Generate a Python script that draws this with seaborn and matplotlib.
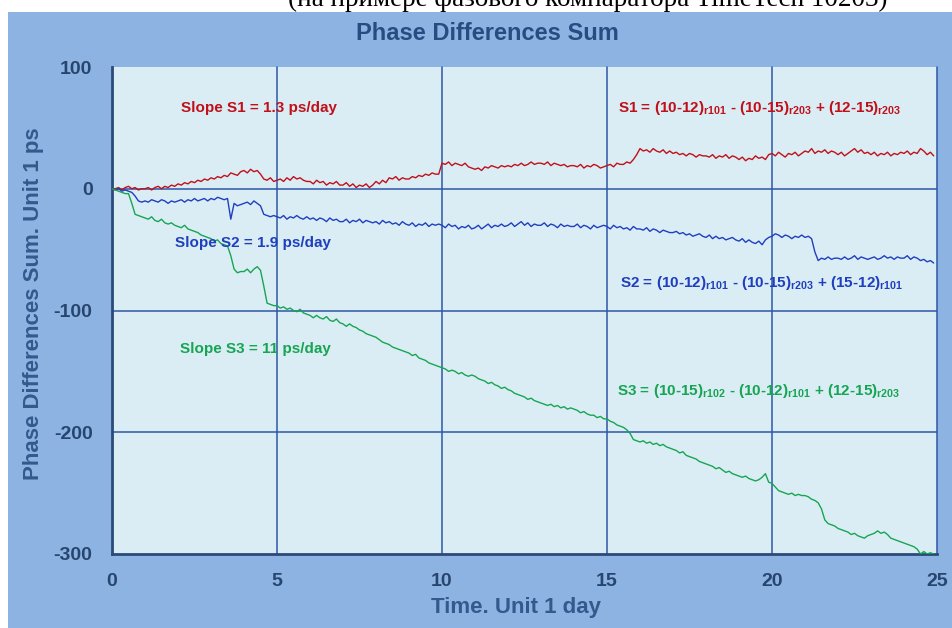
import numpy as np
import pandas as pd
import matplotlib
matplotlib.use("Agg")
import matplotlib.pyplot as plt
from matplotlib.patches import Rectangle
from matplotlib.ticker import MultipleLocator
import seaborn as sns

# ---------------- data (0.1-day sampling) ----------------
days = np.round(np.arange(0, 250) * 0.1, 1)

s1 = [
    0, 0, 1, -1, 1, 2, 0, 1, -1, 0,
    0, 1, -1, 1, 2, 0, 2, 1, 3, 2,
    4, 3, 5, 4, 6, 5, 7, 6, 8, 7,
    9, 8, 10, 9, 11, 10, 13, 12, 11, 14,
    15, 13, 16, 14, 15, 12, 8, 7, 9, 6,
    7, 8, 6, 9, 7, 10, 8, 9, 7, 6,
    6, 4, 7, 5, 6, 3, 5, 4, 6, 3,
    3, 5, 2, 4, 1, 3, 2, 4, 1, 3,
    6, 4, 7, 5, 9, 8, 10, 7, 9, 8,
    8, 10, 9, 11, 10, 12, 11, 13, 12, 12,
    21, 20, 22, 19, 21, 20, 19, 21, 18, 17,
    16, 17, 15, 18, 17, 19, 18, 17, 19, 18,
    19, 18, 20, 19, 21, 19, 20, 22, 20, 21,
    21, 20, 22, 19, 21, 20, 19, 20, 18, 19,
    19, 18, 20, 17, 19, 18, 20, 19, 17, 18,
    19, 20, 18, 21, 20, 20, 22, 21, 24, 28,
    33, 31, 32, 30, 33, 31, 30, 32, 29, 31,
    29, 30, 28, 29, 27, 29, 28, 26, 28, 27,
    27, 26, 28, 25, 27, 26, 28, 25, 27, 26,
    24, 26, 23, 25, 24, 27, 25, 26, 24, 28,
    29, 27, 30, 28, 26, 29, 28, 30, 27, 29,
    31, 30, 33, 29, 31, 30, 32, 29, 31, 30,
    28, 30, 27, 29, 31, 33, 30, 32, 29, 30,
    28, 30, 27, 29, 28, 30, 27, 29, 28, 30,
    29, 31, 28, 30, 29, 33, 31, 28, 30, 27,
]

s2 = [
    0, -1, 0, -2, -1, -2, -3, -6, -10, -11,
    -10, -11, -9, -10, -11, -9, -10, -12, -10, -11,
    -10, -9, -11, -9, -10, -8, -10, -9, -8, -10,
    -8, -9, -7, -8, -9, -8, -25, -12, -14, -13,
    -12, -11, -13, -10, -12, -14, -21, -22, -23, -22,
    -23, -24, -22, -25, -23, -24, -22, -24, -25, -23,
    -25, -24, -26, -24, -25, -27, -24, -26, -25, -27,
    -27, -25, -28, -26, -27, -25, -28, -26, -27, -28,
    -27, -29, -26, -28, -27, -29, -28, -30, -27, -29,
    -30, -28, -31, -29, -30, -28, -31, -29, -30, -29,
    -30, -32, -29, -31, -30, -33, -31, -32, -30, -33,
    -32, -30, -33, -31, -29, -32, -30, -31, -29, -31,
    -30, -28, -31, -29, -27, -30, -28, -31, -29, -30,
    -30, -28, -31, -29, -30, -32, -29, -31, -30, -31,
    -31, -29, -32, -30, -31, -33, -30, -32, -31, -30,
    -31, -33, -30, -32, -31, -33, -32, -34, -31, -33,
    -33, -34, -32, -35, -33, -34, -36, -34, -35, -36,
    -36, -35, -37, -36, -38, -37, -39, -38, -37, -39,
    -40, -38, -41, -39, -41, -40, -42, -41, -40, -42,
    -43, -41, -44, -42, -44, -45, -43, -46, -42, -40,
    -39, -37, -38, -40, -38, -39, -41, -39, -40, -38,
    -40, -39, -41, -52, -59, -57, -58, -56, -58, -57,
    -57, -58, -56, -58, -57, -55, -58, -56, -57, -58,
    -57, -56, -58, -57, -55, -57, -56, -58, -56, -57,
    -57, -55, -58, -56, -57, -59, -58, -60, -59, -61,
]

s3 = [
    0, -1, -2, -3, -4, -4, -12, -21, -22, -23,
    -24, -25, -23, -26, -27, -25, -28, -29, -28, -30,
    -31, -32, -30, -33, -34, -35, -36, -38, -39, -40,
    -41, -43, -42, -45, -46, -47, -55, -66, -69, -68,
    -68, -66, -69, -66, -64, -67, -80, -94, -95, -96,
    -96, -98, -97, -99, -98, -100, -101, -99, -102, -103,
    -104, -106, -104, -106, -107, -105, -108, -109, -107, -110,
    -111, -113, -111, -113, -114, -116, -117, -119, -120, -121,
    -122, -124, -126, -127, -128, -130, -131, -132, -133, -134,
    -135, -137, -136, -139, -140, -141, -143, -144, -145, -146,
    -147, -148, -150, -149, -150, -152, -151, -153, -154, -153,
    -154, -156, -157, -158, -160, -159, -161, -162, -164, -163,
    -165, -166, -168, -169, -170, -171, -173, -172, -174, -175,
    -176, -177, -178, -177, -179, -178, -180, -179, -181, -180,
    -181, -182, -184, -183, -185, -186, -186, -188, -187, -189,
    -189, -191, -192, -194, -195, -196, -198, -201, -206, -207,
    -208, -207, -209, -208, -210, -209, -211, -210, -212, -213,
    -214, -215, -217, -216, -219, -220, -221, -222, -224, -225,
    -226, -227, -228, -230, -229, -231, -233, -232, -234, -235,
    -236, -237, -236, -238, -239, -240, -239, -237, -234, -241,
    -242, -245, -248, -249, -250, -251, -250, -252, -251, -252,
    -252, -253, -255, -256, -258, -263, -272, -275, -276, -277,
    -279, -280, -281, -282, -284, -283, -285, -286, -287, -285,
    -284, -283, -281, -283, -282, -284, -287, -288, -289, -290,
    -291, -292, -293, -294, -296, -300, -298, -300, -299, -300,
]

series_names = ["S1", "S2", "S3"]
series_colors = ["#c0101a", "#1f3fbf", "#16a552"]

slope_labels = ["Slope S1 = 1.3 ps/day", "Slope S2 = 1.9 ps/day", "Slope S3 = 11 ps/day"]
formula_labels = [
    r"S1 = (10-12)$_{\mathbf{r101}}$ - (10-15)$_{\mathbf{r203}}$ + (12-15)$_{\mathbf{r203}}$",
    r"S2 = (10-12)$_{\mathbf{r101}}$ - (10-15)$_{\mathbf{r203}}$ + (15-12)$_{\mathbf{r101}}$",
    r"S3 = (10-15)$_{\mathbf{r102}}$ - (10-12)$_{\mathbf{r101}}$ + (12-15)$_{\mathbf{r203}}$",
]

x_ticks = [0, 5, 10, 15, 20, 25]
y_ticks = [100, 0, -100, -200, -300]

title = "Phase Differences Sum"
x_label = "Time. Unit 1 day"
y_label = "Phase Differences Sum. Unit 1 ps"
top_caption = "(на примере фазового компаратора TimeTech 10203)"

# ---------------- build long-form table ----------------
df = pd.DataFrame({
    "day": np.concatenate([days, days, days]),
    "value": np.concatenate([s1, s2, s3]),
    "series": np.repeat(series_names, len(days)),
})

# ---------------- style ----------------
sns.set_style("white")
plt.rcParams["font.family"] = ["Liberation Sans", "DejaVu Sans"]
plt.rcParams["axes.unicode_minus"] = False
plt.rcParams["mathtext.fontset"] = "custom"
plt.rcParams["mathtext.bf"] = "Liberation Sans:bold"
plt.rcParams["mathtext.rm"] = "Liberation Sans"

frame_color = "#8db3e2"
plot_bg = "#dbedf4"
dark_text = "#27466f"
grid_color = "#2e56a6"
spine_color = "#2b4a78"

fig = plt.figure(figsize=(9.53, 6.28), dpi=100)
fig.patch.set_facecolor("white")

# caption partly cut at the top of the picture (as in the reference)
fig.text(588 / 953, 1 - 6 / 628, top_caption, ha="center", va="baseline",
         fontsize=19.5, family=["Liberation Serif", "DejaVu Serif"], color="black", zorder=0)

# blue frame
fig.patches.append(Rectangle((8 / 953, 0), 1 - 8 / 953, 1 - 12 / 628,
                             transform=fig.transFigure, facecolor=frame_color,
                             edgecolor="none", zorder=1))

ax = fig.add_axes([112 / 953, (628 - 554) / 628, 825 / 953, 487 / 628])
ax.set_facecolor(plot_bg)
ax.set_zorder(2)

# grid lines
for xv in [5, 10, 15, 20, 25]:
    ax.axvline(xv, color=grid_color, lw=1.1, zorder=1, clip_on=False)
for yv in [0, -100, -200]:
    ax.axhline(yv, color=grid_color, lw=1.1, zorder=1)

sns.lineplot(data=df, x="day", y="value", hue="series", palette=series_colors,
             estimator=None, sort=False, legend=False, linewidth=1.0, ax=ax, zorder=3)

ax.set_xlim(0, 25)
ax.set_ylim(-300, 100)
ax.set_xticks(x_ticks)
ax.set_yticks(y_ticks)
ax.xaxis.set_minor_locator(MultipleLocator(1))
ax.yaxis.set_minor_locator(MultipleLocator(50))

for side in ["top", "right"]:
    ax.spines[side].set_visible(False)
for side in ["left", "bottom"]:
    ax.spines[side].set_color(spine_color)
    ax.spines[side].set_linewidth(2)

ax.tick_params(axis="both", which="both", direction="in", color=spine_color, width=2)
ax.tick_params(axis="both", which="major", length=5, labelsize=14, labelcolor=dark_text, pad=14)
ax.tick_params(axis="both", which="minor", length=4)
for lab in ax.get_xticklabels() + ax.get_yticklabels():
    lab.set_fontweight("bold")

ax.set_xlabel(x_label, fontsize=16, fontweight="bold", color="#33598d")
ax.set_ylabel(y_label, fontsize=16, fontweight="bold", color="#33598d")
ax.xaxis.set_label_coords(0.49, -0.088)
ax.yaxis.set_label_coords(-0.082, 0.514)

fig.text(487 / 953, 1 - 33 / 628, title, ha="center", va="center",
         fontsize=17, fontweight="bold", color="#264d82", zorder=3)

slope_pos = [(2.09, 66.5), (1.91, -44.4), (2.06, -131.4)]
formula_pos = [(15.33, 66.5), (15.39, -77.2), (15.3, -165.9)]
for lab, (xp, yp), col in zip(slope_labels, slope_pos, series_colors):
    ax.text(xp, yp, lab, ha="left", va="center", fontsize=11, fontweight="bold",
            color=col, zorder=4)
for lab, (xp, yp), col in zip(formula_labels, formula_pos, series_colors):
    ax.text(xp, yp, lab, ha="left", va="center", fontsize=11, fontweight="bold",
            color=col, zorder=4)

fig.savefig("out.png", dpi=100, facecolor=fig.get_facecolor())
